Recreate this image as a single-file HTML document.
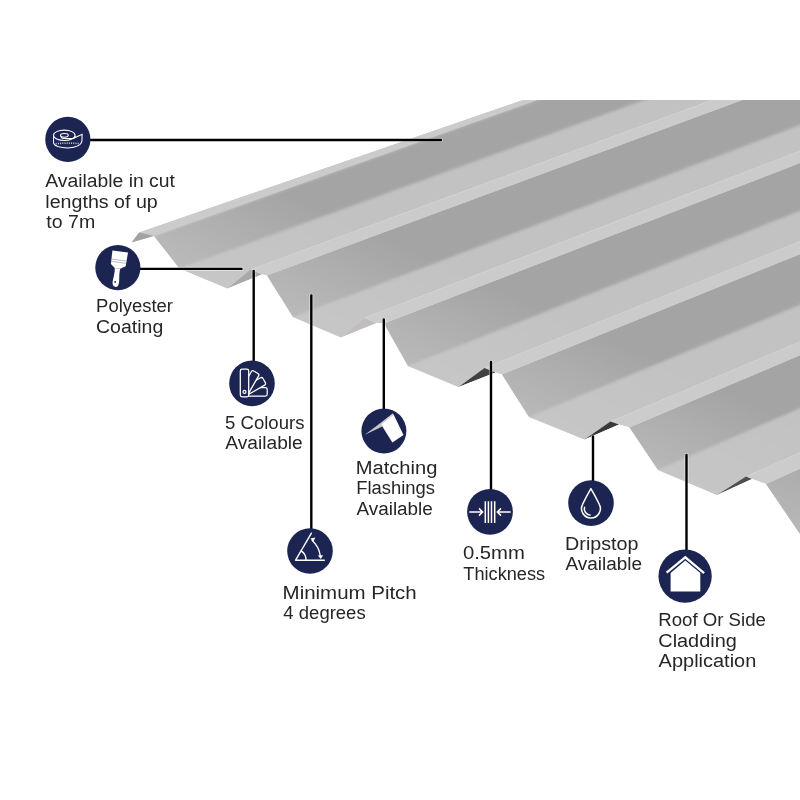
<!DOCTYPE html>
<html><head><meta charset="utf-8"><style>
html,body{margin:0;padding:0;background:#fff;}
svg{display:block;}
text{font-family:"Liberation Sans",sans-serif;font-size:18px;fill:#262626;}
</style></head><body>
<svg width="800" height="800" viewBox="0 0 800 800">
<defs><clipPath id="c"><rect x="0" y="100" width="800" height="700"/></clipPath>
<clipPath id="sil"><polygon points="131.5,242.5 139.0,232.5 523.0,100.0 800.0,100.0 800.0,534.0 766.0,484.0 752.0,479.0 717.0,495.0 658.0,470.0 629.5,427.5 619.0,424.5 584.5,439.5 529.0,417.0 502.0,374.5 495.5,372.5 458.5,387.0 408.0,366.0 384.0,323.5 377.0,323.0 341.0,337.5 293.0,317.0 267.0,275.5 262.0,274.5 227.5,288.5 179.5,268.5 154.0,236.0"/></clipPath>
<filter id="bl" x="-5%" y="-5%" width="110%" height="110%"><feGaussianBlur stdDeviation="1.6"/></filter>
<filter id="bl2" x="-5%" y="-5%" width="110%" height="110%"><feGaussianBlur stdDeviation="0.55"/></filter>
<linearGradient id="gD" gradientUnits="userSpaceOnUse" x1="500" y1="400" x2="541" y2="309"><stop offset="0" stop-color="#b8b8b8"/><stop offset="1" stop-color="#a4a4a4"/></linearGradient>
<linearGradient id="gV" gradientUnits="userSpaceOnUse" x1="500" y1="400" x2="541" y2="309"><stop offset="0" stop-color="#c6c6c6"/><stop offset="1" stop-color="#c2c2c2"/></linearGradient>
<linearGradient id="gR" gradientUnits="userSpaceOnUse" x1="500" y1="400" x2="541" y2="309"><stop offset="0" stop-color="#cdcdcd"/><stop offset="1" stop-color="#cbcbcb"/></linearGradient>
</defs>
<rect width="800" height="800" fill="#fff"/>
<g clip-path="url(#c)">
<g>
<polygon points="131.5,242.5 139.0,232.5 638.2,60.2 1299.0,-170.4 154.0,236.0" fill="#cbcbcb"/>
<polygon points="154.0,236.0 179.5,268.5 1319.4,-144.4 1299.0,-170.4" fill="url(#gD)"/>
<polygon points="179.5,268.5 227.5,288.5 250.5,269.5 1376.2,-143.6 1319.4,-144.4" fill="url(#gV)"/>
<polygon points="267.0,275.5 293.0,317.0 1410.2,-105.6 1389.4,-138.8" fill="url(#gD)"/>
<polygon points="293.0,317.0 341.0,337.5 364.7,317.8 1467.6,-105.0 1410.2,-105.6" fill="url(#gV)"/>
<polygon points="384.0,323.5 408.0,366.0 1502.2,-66.4 1483.0,-100.4" fill="url(#gD)"/>
<polygon points="408.0,366.0 458.5,387.0 484.5,368.0 1563.4,-64.8 1502.2,-66.4" fill="url(#gV)"/>
<polygon points="502.0,374.5 529.0,417.0 1599.0,-25.6 1577.4,-59.6" fill="url(#gD)"/>
<polygon points="529.0,417.0 584.5,439.5 610.5,421.5 1664.2,-22.0 1599.0,-25.6" fill="url(#gV)"/>
<polygon points="629.5,427.5 658.0,470.0 1702.2,16.8 1679.4,-17.2" fill="url(#gD)"/>
<polygon points="658.0,470.0 717.0,495.0 746.0,476.5 1772.6,22.0 1702.2,16.8" fill="url(#gV)"/>
<polygon points="766.0,484.0 800.0,534.0 1815.8,68.0 1788.6,28.0" fill="url(#gD)"/>
</g>
<g clip-path="url(#sil)"><g filter="url(#bl)">
<polygon points="131.5,242.5 139.0,232.5 638.2,60.2 1299.0,-170.4 154.0,236.0" fill="#cbcbcb"/>
<polygon points="154.0,236.0 179.5,268.5 1319.4,-144.4 1299.0,-170.4" fill="url(#gD)"/>
<polygon points="179.5,268.5 227.5,288.5 250.5,269.5 1376.2,-143.6 1319.4,-144.4" fill="url(#gV)"/>
<polygon points="267.0,275.5 293.0,317.0 1410.2,-105.6 1389.4,-138.8" fill="url(#gD)"/>
<polygon points="293.0,317.0 341.0,337.5 364.7,317.8 1467.6,-105.0 1410.2,-105.6" fill="url(#gV)"/>
<polygon points="384.0,323.5 408.0,366.0 1502.2,-66.4 1483.0,-100.4" fill="url(#gD)"/>
<polygon points="408.0,366.0 458.5,387.0 484.5,368.0 1563.4,-64.8 1502.2,-66.4" fill="url(#gV)"/>
<polygon points="502.0,374.5 529.0,417.0 1599.0,-25.6 1577.4,-59.6" fill="url(#gD)"/>
<polygon points="529.0,417.0 584.5,439.5 610.5,421.5 1664.2,-22.0 1599.0,-25.6" fill="url(#gV)"/>
<polygon points="629.5,427.5 658.0,470.0 1702.2,16.8 1679.4,-17.2" fill="url(#gD)"/>
<polygon points="658.0,470.0 717.0,495.0 746.0,476.5 1772.6,22.0 1702.2,16.8" fill="url(#gV)"/>
<polygon points="766.0,484.0 800.0,534.0 1815.8,68.0 1788.6,28.0" fill="url(#gD)"/>
</g>
<g filter="url(#bl2)">
<polygon points="131.5,242.5 139.0,232.5 638.2,60.2 1299.0,-170.4 154.0,236.0" fill="#cbcbcb"/>
<polygon points="131.5,242.5 139.0,232.5 154.0,236.0" fill="#a2a2a2"/>
<polygon points="250.5,269.5 262.0,274.5 267.0,275.5 1389.4,-138.8 1376.2,-143.6" fill="url(#gR)"/>
<line x1="250.5" y1="269.5" x2="1376.2" y2="-143.6" stroke="#d4d4d4" stroke-width="0.9" opacity="0.6"/>
<polygon points="227.5,288.5 250.5,269.5 262.0,274.5" fill="#a9a9a9"/>
<polygon points="364.7,317.8 377.0,323.0 384.0,323.5 1483.0,-100.4 1467.6,-105.0" fill="url(#gR)"/>
<line x1="364.7" y1="317.8" x2="1467.6" y2="-105.0" stroke="#d4d4d4" stroke-width="0.9" opacity="0.6"/>
<polygon points="341.0,337.5 364.7,317.8 377.0,323.0" fill="#c2bebe"/>
<polygon points="484.5,368.0 495.5,372.5 502.0,374.5 1577.4,-59.6 1563.4,-64.8" fill="url(#gR)"/>
<line x1="484.5" y1="368.0" x2="1563.4" y2="-64.8" stroke="#d4d4d4" stroke-width="0.9" opacity="0.6"/>
<polygon points="458.5,387.0 484.5,368.0 495.5,372.5" fill="#444141"/>
<polygon points="610.5,421.5 619.0,424.5 629.5,427.5 1679.4,-17.2 1664.2,-22.0" fill="url(#gR)"/>
<line x1="610.5" y1="421.5" x2="1664.2" y2="-22.0" stroke="#d4d4d4" stroke-width="0.9" opacity="0.6"/>
<polygon points="584.5,439.5 610.5,421.5 619.0,424.5" fill="#3b3838"/>
<polygon points="746.0,476.5 752.0,479.0 766.0,484.0 1788.6,28.0 1772.6,22.0" fill="url(#gR)"/>
<line x1="746.0" y1="476.5" x2="1772.6" y2="22.0" stroke="#d4d4d4" stroke-width="0.9" opacity="0.6"/>
<polygon points="717.0,495.0 746.0,476.5 752.0,479.0" fill="#524e4e"/>
</g>
</g>
</g>
<g stroke="#fff" stroke-width="4.2" stroke-linecap="round" opacity="0.45">
<line x1="88" y1="140" x2="441" y2="140"/>
<line x1="138" y1="268.9" x2="241.5" y2="268.9"/>
<line x1="253.7" y1="271" x2="253.7" y2="362"/>
<line x1="311.3" y1="295.5" x2="311.3" y2="530"/>
<line x1="383.8" y1="319.5" x2="383.8" y2="410"/>
<line x1="491" y1="362" x2="491" y2="490"/>
<line x1="593" y1="436.5" x2="593" y2="482"/>
<line x1="686.5" y1="455" x2="686.5" y2="551"/>
</g>
<g stroke="#000" stroke-width="2.4" stroke-linecap="round">
<line x1="88" y1="140" x2="441" y2="140"/>
<line x1="138" y1="268.9" x2="241.5" y2="268.9"/>
<line x1="253.7" y1="271" x2="253.7" y2="362"/>
<line x1="311.3" y1="295.5" x2="311.3" y2="530"/>
<line x1="383.8" y1="319.5" x2="383.8" y2="410"/>
<line x1="491" y1="362" x2="491" y2="490"/>
<line x1="593" y1="436.5" x2="593" y2="482"/>
<line x1="686.5" y1="455" x2="686.5" y2="551"/>
</g>
<g fill="#1c2452">
<circle cx="67.85" cy="139.40" r="22.60"/>
<circle cx="117.85" cy="267.55" r="22.60"/>
<circle cx="252.00" cy="383.40" r="22.80"/>
<circle cx="310.00" cy="551.00" r="22.80"/>
<circle cx="383.90" cy="431.00" r="22.50"/>
<circle cx="490.00" cy="511.80" r="22.90"/>
<circle cx="591.00" cy="503.10" r="22.80"/>
<circle cx="685.10" cy="576.15" r="26.65"/>
</g>
<g fill="none" stroke="#fff" stroke-width="1.05" stroke-linecap="round">
<ellipse cx="64.3" cy="135.3" rx="10.8" ry="5.2"/>
<ellipse cx="64.4" cy="135.3" rx="3.9" ry="1.85"/>
<path d="M61.0,136.6 Q61.3,138.4 63.5,138.5 L73.2,138.4 Q74.6,138.2 75.1,136.6"/>
<path d="M74.2,137.9 L82.1,134.3 L81.9,141.4 Q80.8,147.3 68,147.9 Q55.4,147.6 53.6,143.2 L53.5,135.4"/>
<path d="M56.20,142.94 v1.6 M58.40,142.72 v1.6 M60.60,142.55 v1.6 M62.80,142.42 v1.6 M65.00,142.34 v1.6 M67.20,142.30 v1.6 M69.40,142.31 v1.6 M71.60,142.36 v1.6 M73.80,142.45 v1.6 M76.00,142.59 v1.6 M78.20,142.78 v1.6" stroke-width="0.8" stroke-linecap="butt"/>
</g>
<g fill="#fff" transform="translate(112.4,250.4) rotate(8)">
<path d="M0,0 L15.75,0 L15.35,13.8 L10.3,17.2 L4.8,17.2 L0.4,13.8 Z"/>
<path d="M0,8.7 H15.6 M0,10.95 H15.5" stroke="#8d90a6" stroke-width="0.55"/>
<path d="M4.8,17 C5.5,21 5.0,25 4.6,30 Q4.3,35.6 7.9,35.7 Q11.3,35.6 11.0,30 C10.6,25 9.7,21 10.3,17 Z"/>
<circle cx="7.1" cy="30.9" r="0.9" fill="#1c2452"/>
</g>
<g fill="#1c2452" stroke="#fff" stroke-width="1.25"><rect x="240.3" y="369.2" width="8.4" height="24.0" rx="1.8" transform="rotate(90 244.5 391.9)"/><rect x="240.3" y="369.2" width="8.4" height="24.0" rx="1.8" transform="rotate(60 244.5 391.9)"/><rect x="240.3" y="369.2" width="8.4" height="24.0" rx="1.8" transform="rotate(30 244.5 391.9)"/><rect x="240.3" y="369.2" width="8.4" height="27.6" rx="1.8" transform="rotate(0 244.5 391.9)"/><circle cx="244.5" cy="391.9" r="1.5"/></g>
<g fill="none" stroke="#fff" stroke-width="1.4" stroke-linecap="round">
<path d="M295.6,560.2 L324.4,560.2 M295.6,560.2 L311.4,533.2"/>
<path d="M301.1,550.9 A10.5,10.5 0 0,1 306.0,560"/>
<path d="M312.2,540.4 A24.8,24.8 0 0,1 320.3,556.0"/>
</g>
<g fill="#fff"><path d="M310.3,538.4 L315.4,537.6 L313.4,541.6 Z"/><path d="M317.8,555.5 L323.0,555.2 L320.9,559.0 Z"/></g>
<defs><linearGradient id="gF" x1="0" y1="0" x2="1" y2="0"><stop offset="0" stop-color="#c6c6c8"/><stop offset="0.55" stop-color="#c2c2c4"/><stop offset="1" stop-color="#e8e8ea"/></linearGradient></defs>
<polygon points="364.8,434.7 380.7,422.7 392.7,413.6 393.6,414.6 381.2,424.2 382.4,426.6" fill="url(#gF)"/>
<polygon points="381.0,424.2 393.6,414.6 403.5,434.9 392.4,442.4" fill="#fff"/>
<g stroke="#fff" stroke-width="1.5" fill="none">
<path d="M485.3,501.2 V523.1 M488.4,501.2 V523.1 M491.5,501.2 V523.1 M494.7,501.2 V523.1"/>
<path d="M469.3,512 H482 M479,508.4 L482.6,512 L479,515.6"/>
<path d="M510.7,512 H498 M501,508.4 L497.4,512 L501,515.6"/>
</g>
<g fill="none" stroke="#fff" stroke-width="1.5">
<path d="M590.9,488.6 Q586,497 582.6,504.3 A9.4,9.4 0 1,0 599.3,504.3 Q595.8,497 590.9,488.6 Z" stroke-linejoin="round"/>
<path d="M584.6,506.8 A6.6,6.6 0 0,0 590.6,515.3"/>
</g>
<path d="M666.6,572.7 L685.3,557.3 L704.1,573.1" fill="none" stroke="#fff" stroke-width="2.2"/>
<polygon points="670.6,573.0 685.3,560.5 700.3,573.0 700.3,591.6 670.6,591.6" fill="#fff"/>
<g opacity="0.999"><text x="45.20" y="186.80" textLength="129.71" lengthAdjust="spacingAndGlyphs">Available in cut</text>
<text x="45.34" y="207.60" textLength="112.41" lengthAdjust="spacingAndGlyphs">lengths of up</text>
<text x="46.38" y="228.10" textLength="48.84" lengthAdjust="spacingAndGlyphs">to 7m</text>
<text x="96.11" y="312.00" textLength="76.88" lengthAdjust="spacingAndGlyphs">Polyester</text>
<text x="96.02" y="332.50" textLength="67.21" lengthAdjust="spacingAndGlyphs">Coating</text>
<text x="225.08" y="428.60" textLength="79.38" lengthAdjust="spacingAndGlyphs">5 Colours</text>
<text x="225.35" y="449.20" textLength="77.43" lengthAdjust="spacingAndGlyphs">Available</text>
<text x="355.72" y="473.80" textLength="81.65" lengthAdjust="spacingAndGlyphs">Matching</text>
<text x="356.17" y="494.00" textLength="78.79" lengthAdjust="spacingAndGlyphs">Flashings</text>
<text x="356.45" y="514.80" textLength="76.42" lengthAdjust="spacingAndGlyphs">Available</text>
<text x="462.96" y="559.15" textLength="61.90" lengthAdjust="spacingAndGlyphs">0.5mm</text>
<text x="463.35" y="580.15" textLength="81.69" lengthAdjust="spacingAndGlyphs">Thickness</text>
<text x="565.11" y="549.70" textLength="73.34" lengthAdjust="spacingAndGlyphs">Dripstop</text>
<text x="565.55" y="570.30" textLength="76.52" lengthAdjust="spacingAndGlyphs">Available</text>
<text x="658.20" y="626.10" textLength="107.73" lengthAdjust="spacingAndGlyphs">Roof Or Side</text>
<text x="658.31" y="646.60" textLength="78.47" lengthAdjust="spacingAndGlyphs">Cladding</text>
<text x="658.64" y="667.20" textLength="97.64" lengthAdjust="spacingAndGlyphs">Application</text>
<text x="282.60" y="598.90" textLength="134.14" lengthAdjust="spacingAndGlyphs">Minimum Pitch</text>
<text x="283.39" y="619.40" textLength="82.29" lengthAdjust="spacingAndGlyphs">4 degrees</text></g>
</svg>
</body></html>
